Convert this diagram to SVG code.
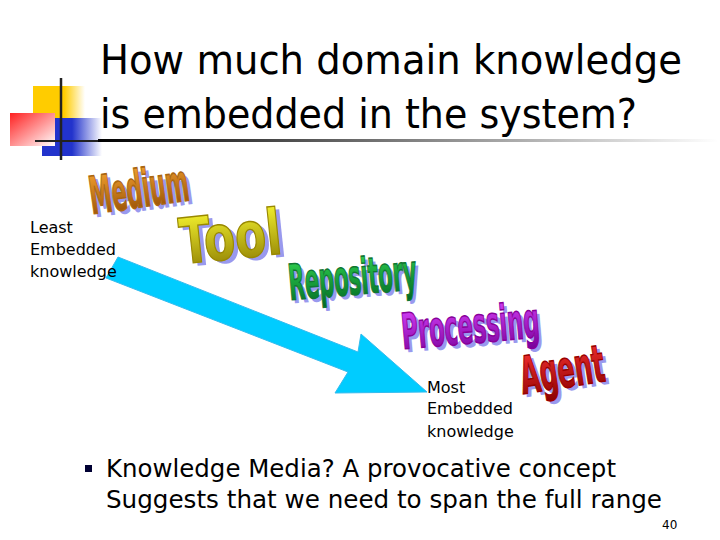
<svg xmlns="http://www.w3.org/2000/svg" width="720" height="540" viewBox="0 0 720 540">
<defs>
<style>
.t{font-family:"DejaVu Sans","Liberation Sans",sans-serif;fill:#000}
.w{font-family:"DejaVu Sans Condensed","DejaVu Sans",sans-serif;font-weight:bold;stroke-width:0.8}
</style>
<linearGradient id="gy" x1="0" y1="0" x2="1" y2="0"><stop offset="0" stop-color="#ffcc00"/><stop offset="0.6" stop-color="#ffcc00"/><stop offset="1" stop-color="#fff"/></linearGradient>
<linearGradient id="gr" x1="0" y1="0" x2="1" y2="1"><stop offset="0" stop-color="#ff2020"/><stop offset="1" stop-color="#fff"/></linearGradient>
<linearGradient id="gb" x1="0" y1="0" x2="1" y2="0"><stop offset="0" stop-color="#2233cc"/><stop offset="0.5" stop-color="#2233cc"/><stop offset="1" stop-color="#fff"/></linearGradient>
<linearGradient id="gl" x1="0" y1="0" x2="1" y2="0"><stop offset="0" stop-color="#000"/><stop offset="1" stop-color="#fff"/></linearGradient>
<linearGradient id="fm" x1="0" y1="0" x2="0" y2="1"><stop offset="0" stop-color="#ffaa33"/><stop offset="1" stop-color="#884400"/></linearGradient>
<linearGradient id="ft" x1="0" y1="0" x2="0" y2="1"><stop offset="0" stop-color="#ffff33"/><stop offset="1" stop-color="#887700"/></linearGradient>
<linearGradient id="fr" x1="0" y1="0" x2="0" y2="1"><stop offset="0" stop-color="#33dd55"/><stop offset="1" stop-color="#006622"/></linearGradient>
<linearGradient id="fp" x1="0" y1="0" x2="0" y2="1"><stop offset="0" stop-color="#dd44ff"/><stop offset="1" stop-color="#770099"/></linearGradient>
<linearGradient id="fa" x1="0" y1="0" x2="0" y2="1"><stop offset="0" stop-color="#ff3333"/><stop offset="1" stop-color="#880000"/></linearGradient>
</defs>
<rect width="720" height="540" fill="#fff"/>
<g id="logo">
<rect x="33" y="86" width="52" height="40" fill="url(#gy)"/>
<rect x="42" y="118" width="60" height="38" fill="url(#gb)"/>
<rect x="10" y="113" width="45" height="33" fill="url(#gr)"/>
<line x1="61" y1="78" x2="61" y2="160" stroke="#222" stroke-width="2.5"/>
<line x1="35" y1="141" x2="100" y2="141" stroke="#222" stroke-width="2"/>
<rect x="98" y="139" width="620" height="3" fill="url(#gl)"/>
</g>
<g id="title">
<text class="t" x="100" y="74" font-size="40" textLength="582" lengthAdjust="spacingAndGlyphs">How much domain knowledge</text>
<text class="t" x="100" y="128" font-size="40" textLength="537" lengthAdjust="spacingAndGlyphs">is embedded in the system?</text>
</g>
<g id="connectors">
<polygon points="118,257 358,352 361,334 427,392 335,393 348,372 106,278" fill="#00ccff" stroke="#33bbee" stroke-width="1"/>
</g>
<g id="least"><text class="t" font-size="16"><tspan x="30" y="233">Least</tspan><tspan x="30" y="255">Embedded</tspan><tspan x="30" y="277">knowledge</tspan></text></g>
<g id="most"><text class="t" font-size="16"><tspan x="427" y="393">Most</tspan><tspan x="427" y="414">Embedded</tspan><tspan x="427" y="437">knowledge</tspan></text></g>
<g id="medium" transform="translate(92,214) rotate(-8) scale(0.95,2)">
<text class="w" x="3" y="2" font-size="26" fill="#9999ee">Medium</text>
<text class="w" x="0" y="0" font-size="26" fill="url(#fm)" stroke="#aa6611">Medium</text></g>
<g id="tool" transform="translate(182,264) rotate(-6) scale(1.4,1.75)">
<text class="w" x="3" y="2" font-size="36" fill="#9999ee">Tool</text>
<text class="w" x="0" y="0" font-size="36" fill="url(#ft)" stroke="#998800">Tool</text></g>
<g id="repository" transform="translate(290,300) rotate(-5) scale(0.9,1.9)">
<text class="w" x="3" y="2" font-size="26" fill="#9999ee">Repository</text>
<text class="w" x="0" y="0" font-size="26" fill="url(#fr)" stroke="#117733">Repository</text></g>
<g id="processing" transform="translate(403,349) rotate(-5) scale(0.96,1.9)">
<text class="w" x="3" y="2" font-size="26" fill="#9999ee">Processing</text>
<text class="w" x="0" y="0" font-size="26" fill="url(#fp)" stroke="#880099">Processing</text></g>
<g id="agent" transform="translate(523,394) rotate(-9) scale(1.0,1.85)">
<text class="w" x="3" y="2" font-size="28" fill="#9999ee">Agent</text>
<text class="w" x="0" y="0" font-size="28" fill="url(#fa)" stroke="#990000">Agent</text></g>
<g id="bullets">
<rect x="85" y="465" width="7" height="7" fill="#000033"/>
<text class="t" x="106" y="477" font-size="24" textLength="510" lengthAdjust="spacingAndGlyphs">Knowledge Media? A provocative concept</text>
<text class="t" x="106" y="508" font-size="24" textLength="556" lengthAdjust="spacingAndGlyphs">Suggests that we need to span the full range</text>
<text class="t" x="662" y="529" font-size="12">40</text>
</g>
</svg>
